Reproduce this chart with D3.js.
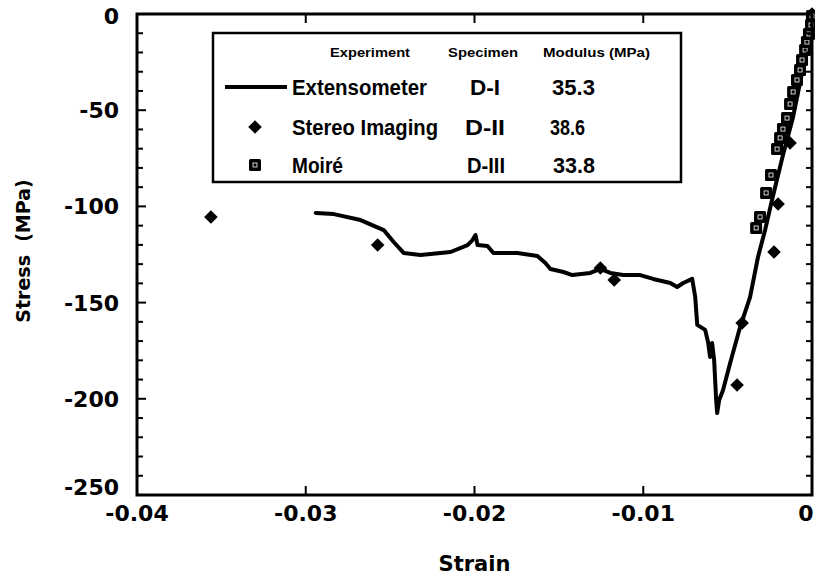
<!DOCTYPE html>
<html><head><meta charset="utf-8">
<script src="https://cdn.jsdelivr.net/npm/d3@7"></script>
<style>body{margin:0;background:#fff}svg{display:block}</style>
</head><body>
<svg id="c" width="815" height="576"></svg>
<script>
// Extensometer (D-I) stress-strain curve
const extStrain = [-0.02941,-0.02834,-0.02675,-0.02538,-0.02479,-0.02420,-0.02320,-0.02142,-0.02041,-0.02012,-0.01994,-0.01982,-0.01923,-0.01888,-0.01746,-0.01627,-0.01580,-0.01550,-0.01473,-0.01420,-0.01314,-0.01254,-0.01195,-0.01118,-0.01018,-0.00941,-0.00840,-0.00799,-0.00763,-0.00710,-0.00692,-0.00680,-0.00633,-0.00615,-0.00604,-0.00592,-0.00580,-0.00568,-0.00562,-0.00550,-0.00527,-0.00485,-0.00426,-0.00367,-0.00320,-0.00278,-0.00237,-0.00172,-0.00112,-0.00053,0];
const extStress = [-103.4,-104.0,-107.1,-112.3,-118.5,-124.2,-125.3,-123.7,-120.1,-117.5,-114.9,-120.1,-120.6,-124.2,-124.2,-125.8,-129.4,-132.5,-134.1,-135.7,-134.6,-132.5,-134.6,-135.7,-135.7,-137.7,-139.8,-141.9,-139.8,-137.7,-147.1,-161.6,-164.2,-171.0,-178.3,-171.0,-179.8,-200.6,-207.4,-200.6,-195.4,-181.4,-162.7,-147.1,-126.3,-112.3,-96.7,-73.3,-53.5,-28.0,0];
// Stereo imaging (D-II)
const stereoStrain = [-0.03562,-0.02574,-0.01254,-0.01172,-0.00444,-0.00414,-0.00225,-0.00201,-0.00130,0];
const stereoStress = [-105.5,-120.1,-132.0,-138.3,-192.8,-160.6,-123.7,-98.8,-67.0,0];
// Moire (D-III)
const moireStrain = [-0.00331,-0.00308,-0.00272,-0.00243,-0.00207,-0.00189,-0.00172,-0.00148,-0.00130,-0.00112,-0.00089,-0.00071,-0.00059,-0.00041,-0.00030,-0.00018,-0.00006,0];
const moireStress = [-111.2,-105.5,-93.0,-83.7,-70.2,-64.4,-59.8,-54.1,-46.8,-40.5,-34.3,-29.1,-23.9,-18.7,-14.6,-10.4,-5.7,-1.0];
// Axis ticks
const xTicks = [-0.04,-0.03,-0.02,-0.01,0];
const xTickLabels = ["-0.04","-0.03","-0.02","-0.01","0"];
const yTicks = [0,-50,-100,-150,-200,-250];
const yTickLabels = ["0","-50","-100","-150","-200","-250"];
const yMinor = d3.range(0,-251,-10);
// Legend table
const legHeader = ["Experiment","Specimen","Modulus (MPa)"];
const legExperiment = ["Extensometer","Stereo Imaging","Moiré"];
const legSpecimen = ["D-I","D-II","D-III"];
const legModulus = ["35.3","38.6","33.8"];

const svg = d3.select("#c");
const L=137, R=812, T=14, B=495;
const x = d3.scaleLinear().domain([-0.04,0]).range([L,R]);
const y = d3.scaleLinear().domain([-250,0]).range([B,T]);
const tickFont = "'DejaVu Sans', sans-serif";

// data line
const ext = extStrain.map((s,i)=>[s,extStress[i]]);
svg.append("path").datum(ext)
  .attr("d", d3.line().x(d=>x(d[0])).y(d=>y(d[1])).curve(d3.curveLinear))
  .attr("fill","none").attr("stroke","#000").attr("stroke-width",4).attr("stroke-linejoin","round").attr("stroke-linecap","round");

// stereo diamonds
svg.append("g").selectAll("path").data(stereoStrain.map((s,i)=>[s,stereoStress[i]])).join("path")
  .attr("transform", d=>`translate(${x(d[0])},${y(d[1])}) rotate(45)`)
  .attr("d", d3.symbol().type(d3.symbolSquare).size(92)())
  .attr("fill","#000");

// moire squares
const mg = svg.append("g").selectAll("g").data(moireStrain.map((s,i)=>[s,moireStress[i]])).join("g")
  .attr("transform", d=>`translate(${x(d[0])},${y(d[1])})`);
mg.append("rect").attr("x",-6).attr("y",-6).attr("width",12).attr("height",12).attr("rx",1.5).attr("fill","#000");
mg.append("rect").attr("x",-2).attr("y",-2).attr("width",4).attr("height",4).attr("fill","none").attr("stroke","#fff").attr("stroke-width",0.8);

// frame
svg.append("rect").attr("x",L).attr("y",T).attr("width",R-L).attr("height",B-T)
  .attr("fill","none").attr("stroke","#000").attr("stroke-width",3);

// y ticks (left & right), inward
const yt = svg.append("g").attr("stroke","#000").attr("stroke-width",2);
yMinor.forEach(v=>{
  const major = v%50===0;
  yt.append("line").attr("x1",L).attr("x2",L+(major?9:6)).attr("y1",y(v)).attr("y2",y(v));
  yt.append("line").attr("x1",R).attr("x2",R-6).attr("y1",y(v)).attr("y2",y(v));
});
// x ticks top & bottom
xTicks.slice(1,-1).forEach(v=>{
  yt.append("line").attr("x1",x(v)).attr("x2",x(v)).attr("y1",B).attr("y2",B-9);
  yt.append("line").attr("x1",x(v)).attr("x2",x(v)).attr("y1",T).attr("y2",T+9);
});

// tick labels
svg.append("g").selectAll("text").data(yTicks).join("text")
  .attr("x",119).attr("y",(d,i)=>y(d)+ (i===5?0:(i===0?10:8))).attr("text-anchor","end")
  .attr("font-family",tickFont).attr("font-weight","bold").attr("font-size",22)
  .text((d,i)=>yTickLabels[i]);
svg.append("g").selectAll("text").data(xTicks).join("text")
  .attr("x",(d,i)=>i===4?x(d)-6:x(d)).attr("y",521).attr("text-anchor","middle")
  .attr("font-family",tickFont).attr("font-weight","bold").attr("font-size",22)
  .text((d,i)=>xTickLabels[i]);

// axis titles
svg.append("text").attr("x",(L+R)/2).attr("y",571).attr("text-anchor","middle")
  .attr("font-family",tickFont).attr("font-weight","bold").attr("font-size",21).text("Strain");
svg.append("text").attr("transform","translate(30,251) rotate(-90)").attr("text-anchor","middle")
  .attr("font-family",tickFont).attr("font-weight","bold").attr("font-size",19).attr("xml:space","preserve").text("Stress  (MPa)");

// legend
const lg = svg.append("g");
lg.append("rect").attr("x",213).attr("y",33).attr("width",468).attr("height",149)
  .attr("fill","#fff").attr("stroke","#000").attr("stroke-width",2.5);
const lf = "'Liberation Sans', Arial, sans-serif";
const hdrX = [330,448,543], hdrW=[80,70,107];
legHeader.forEach((h,i)=>lg.append("text").attr("x",hdrX[i]).attr("y",57).attr("font-family",lf)
  .attr("font-weight","bold").attr("font-size",13).attr("textLength",hdrW[i]).attr("lengthAdjust","spacingAndGlyphs").text(h));
const rowY=[87,127,165];
const expW=[135,146,51], spX=[470,465,467], spW=[30,40,38], moX=[552,550,553], moW=[43,35,42];
legExperiment.forEach((t,i)=>{
  lg.append("text").attr("x",292).attr("y",rowY[i]+8).attr("font-family",lf).attr("font-weight","bold")
    .attr("font-size",22).attr("textLength",expW[i]).attr("lengthAdjust","spacingAndGlyphs").text(t);
  lg.append("text").attr("x",spX[i]).attr("y",rowY[i]+8).attr("font-family",lf).attr("font-weight","bold")
    .attr("font-size",22).attr("textLength",spW[i]).attr("lengthAdjust","spacingAndGlyphs").text(legSpecimen[i]);
  lg.append("text").attr("x",moX[i]).attr("y",rowY[i]+8).attr("font-family",lf).attr("font-weight","bold")
    .attr("font-size",22).attr("textLength",moW[i]).attr("lengthAdjust","spacingAndGlyphs").text(legModulus[i]);
});
lg.append("line").attr("x1",225).attr("x2",287).attr("y1",rowY[0]).attr("y2",rowY[0]).attr("stroke","#000").attr("stroke-width",4);
lg.append("path").attr("transform",`translate(255,${rowY[1]}) rotate(45)`).attr("d",d3.symbol().type(d3.symbolSquare).size(92)()).attr("fill","#000");
lg.append("rect").attr("x",249).attr("y",rowY[2]-6).attr("width",12).attr("height",12).attr("rx",1.5).attr("fill","#000");
lg.append("rect").attr("x",253).attr("y",rowY[2]-2).attr("width",4).attr("height",4).attr("fill","none").attr("stroke","#fff").attr("stroke-width",0.8);
</script>
</body></html>
